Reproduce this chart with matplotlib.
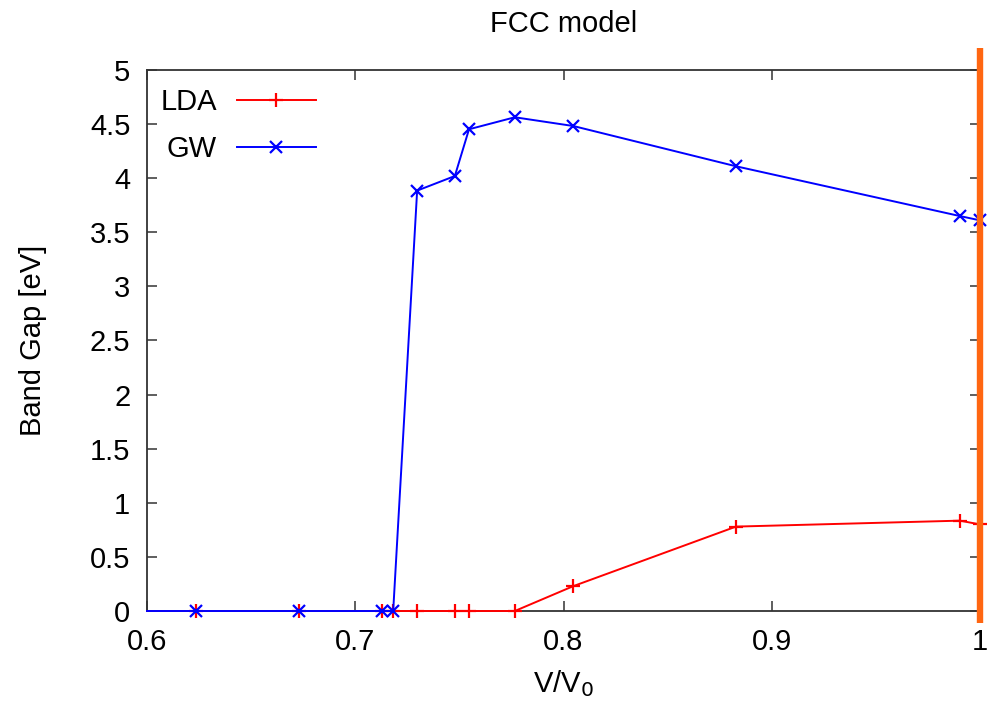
import matplotlib
matplotlib.use("Agg")
import matplotlib.pyplot as plt
from matplotlib.ticker import FuncFormatter

plt.rcParams['font.family'] = ['Liberation Sans', 'DejaVu Sans']

# Volume ratio V/V0 and band gaps (eV)
volume_ratio = [0.6, 0.6237, 0.673, 0.7126, 0.7182, 0.7297, 0.7478, 0.7546,
                0.7766, 0.8047, 0.8828, 0.9903, 1.0]
gap_lda = [0.0, 0.0, 0.0, 0.0, 0.0, 0.0, 0.0, 0.0, 0.0, 0.23, 0.78, 0.835, 0.80]
gap_gw = [0.0, 0.0, 0.0, 0.0, 0.0, 3.885, 4.02, 4.452, 4.563, 4.482, 4.11, 3.65, 3.61]

x_ticks = [0.6, 0.7, 0.8, 0.9, 1.0]
y_ticks = [0, 0.5, 1, 1.5, 2, 2.5, 3, 3.5, 4, 4.5, 5]

FS = 21

fig = plt.figure(figsize=(9.88, 7.04), dpi=100)
ax = fig.add_axes([0.1488, 0.1321, 0.8432, 0.7685])

# the first sample sits on the frame edge; its marker is not shown
ax.plot(volume_ratio, gap_lda, color='#ff0000', lw=1.4, marker='+',
        ms=10, mew=1.6, markevery=slice(1, None), label='LDA',
        clip_on=False, zorder=3)
ax.plot(volume_ratio, gap_gw, color='#0000ff', lw=1.4, marker='x',
        ms=8, mew=1.6, markevery=slice(1, None), label='GW',
        clip_on=False, zorder=3.1)

ax.set_xlim(0.6, 1.0)
ax.set_ylim(0, 5)
ax.set_xticks(x_ticks)
ax.set_yticks(y_ticks)
fmt = FuncFormatter(lambda v, p: f"{v:g}")
ax.xaxis.set_major_formatter(fmt)
ax.yaxis.set_major_formatter(fmt)

for s in ax.spines.values():
    s.set_color('#333333')
    s.set_linewidth(1.3)

ax.tick_params(direction='in', length=7, width=1.1, color='#333333',
               top=True, right=True, labelsize=FS, pad=12)

# Marker for the reference volume, drawn past the frame
ax.plot([1.0, 1.0], [-0.115, 5.2], color='#ff6611', lw=4.6,
        solid_capstyle='butt', clip_on=False, zorder=5)

ax.set_title('FCC model', fontsize=FS, pad=27)
ax.set_xlabel('V/V$_0$', fontsize=FS, labelpad=9)
ax.set_ylabel('Band Gap [eV]', fontsize=FS, labelpad=31)

ax.legend(loc='upper left', frameon=False, markerfirst=False, fontsize=FS,
          handlelength=2.7, handletextpad=0.69, labelspacing=0.66,
          borderpad=0.2, borderaxespad=0.25, bbox_to_anchor=(0.0, 0.991))

fig.savefig('out.png', dpi=100)
